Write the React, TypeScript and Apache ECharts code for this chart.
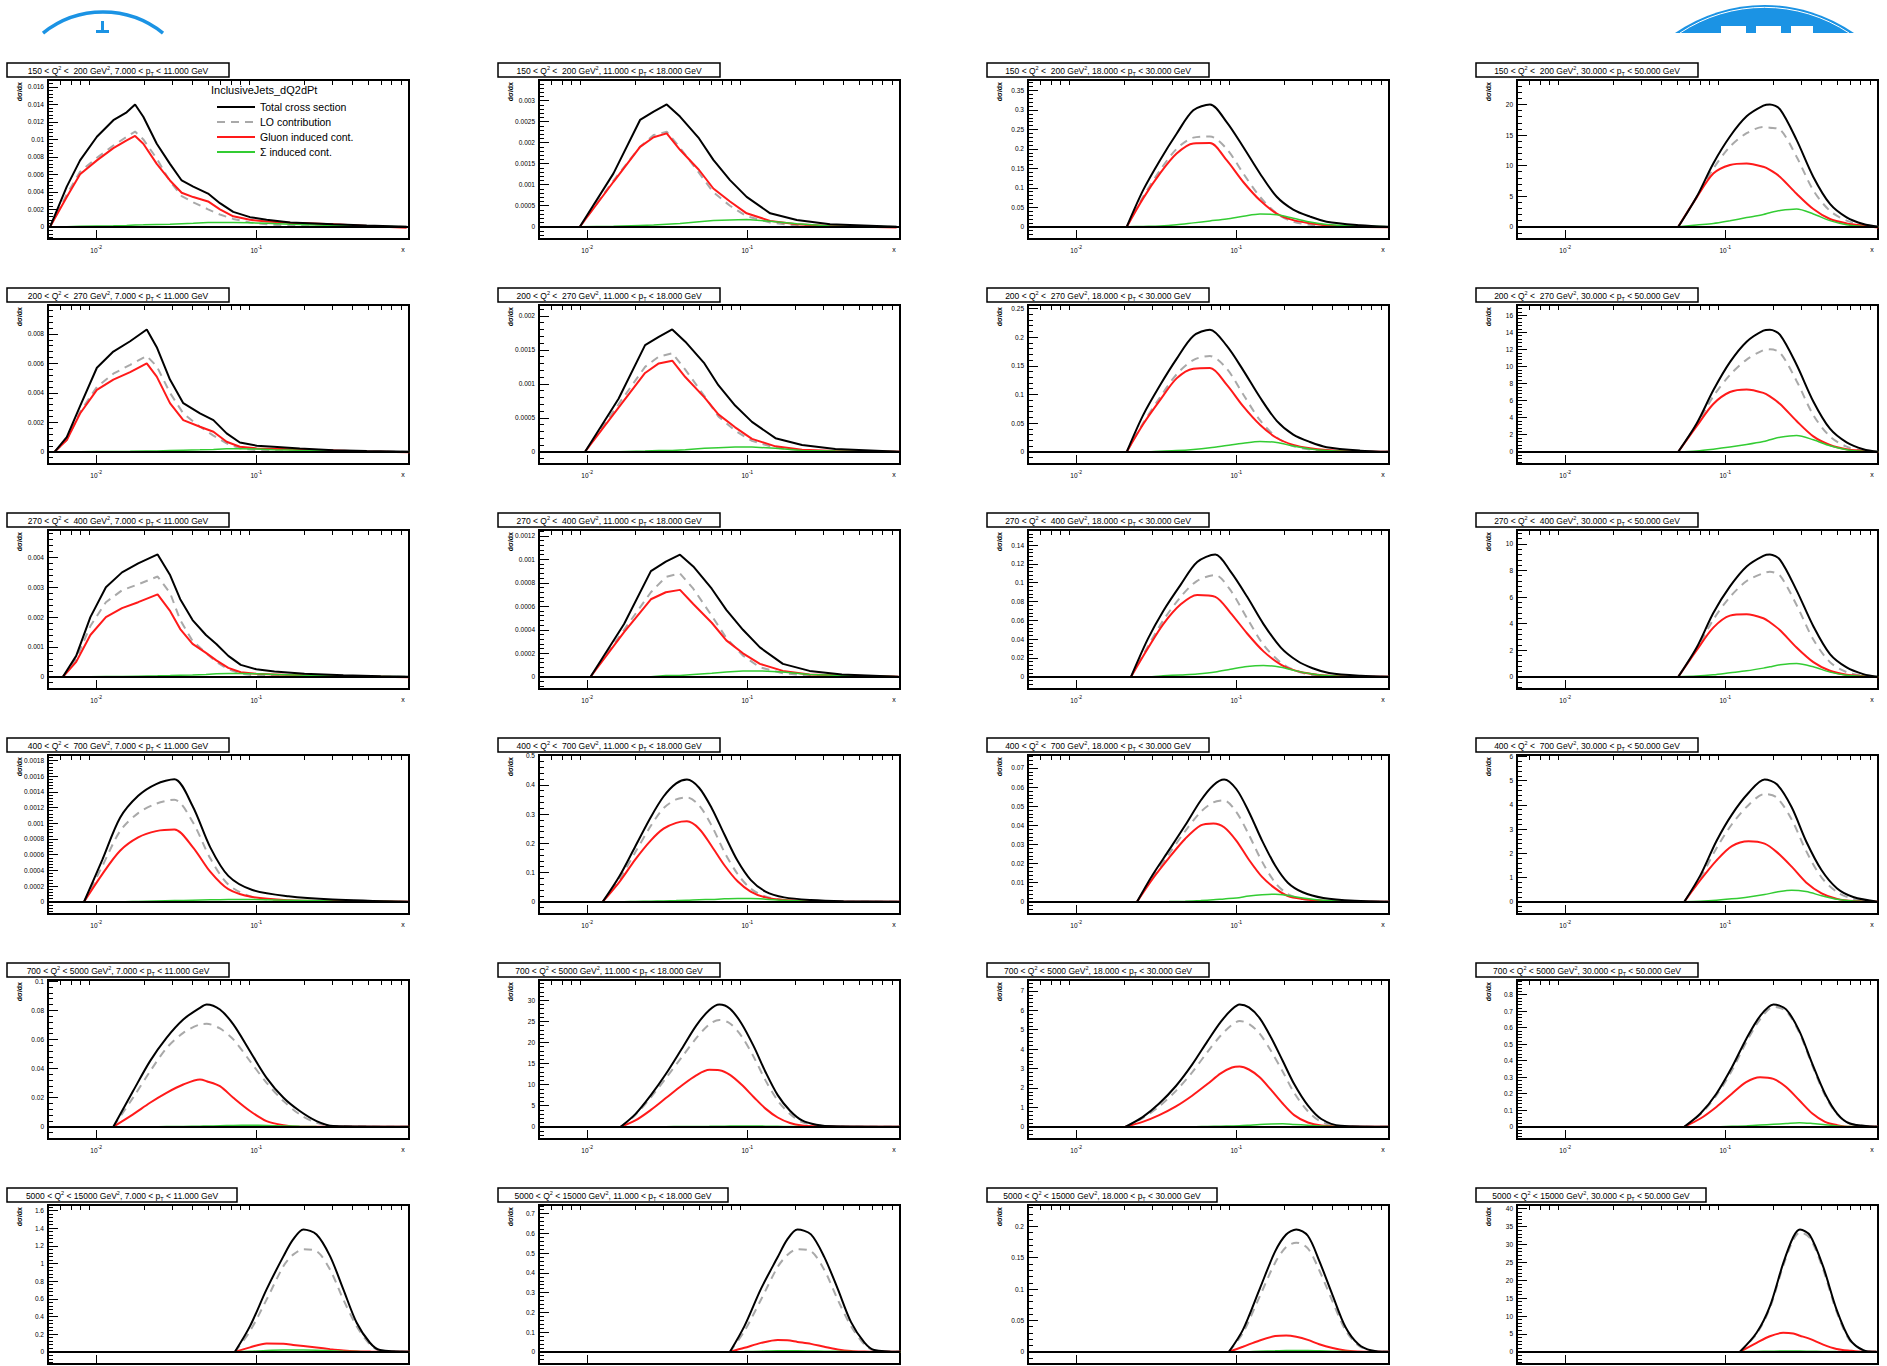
import React, { useEffect, useRef } from 'react';
import * as echarts from 'echarts';

// ---------------- data ----------------
const Q2_LO = ['150', '200', '270', '400', '700', '5000'];
const Q2_HI = ['200', '270', '400', '700', '5000', '15000'];
const PT_LO = ['7.000', '11.000', '18.000', '30.000'];
const PT_HI = ['11.000', '18.000', '30.000', '50.000'];

const SERIES_NAMES = ['Total cross section', 'LO contribution', 'Gluon induced cont.', 'Σ induced cont.'];
const LEGEND_HEADER = 'InclusiveJets_dQ2dPt';
const Y_TITLE = 'dσ/dx';
const X_TITLE = 'x';

const X_MIN = 0.005;
const X_MAX = 0.9;
const X_MINOR_TICKS = [0.006, 0.007, 0.008, 0.009, 0.02, 0.03, 0.04, 0.05, 0.06, 0.07, 0.08, 0.09, 0.2, 0.3, 0.4, 0.5, 0.6, 0.7, 0.8];

const Y_MAX = [0.0168, 0.00349, 0.377, 24, 0.00996, 0.00216, 0.256, 17.2, 0.00492, 0.00125, 0.156, 11.04, 0.00187, 0.502, 0.0768, 6.06, 0.1008, 34.8, 7.56, 0.888, 1.662, 0.744, 0.234, 41.04];
const Y_STEP = [0.002, 0.0005, 0.05, 5, 0.002, 0.0005, 0.05, 2, 0.001, 0.0002, 0.02, 2, 0.0002, 0.1, 0.01, 1, 0.02, 5, 1, 0.1, 0.2, 0.1, 0.05, 5];

const X_VALUES: number[][] = [
  [0.00515, 0.00655, 0.00793, 0.0101, 0.0128, 0.0155, 0.0175, 0.0197, 0.0239, 0.0289, 0.0342, 0.0404, 0.05, 0.0593, 0.0718, 0.0914, 0.116, 0.163, 0.303, 0.49, 0.87],
  [0.009, 0.0146, 0.0214, 0.026, 0.0314, 0.038, 0.05, 0.0614, 0.078, 0.0991, 0.139, 0.204, 0.329, 0.857],
  [0.0207, 0.0262, 0.0334, 0.0424, 0.0539, 0.0685, 0.0871, 0.1106, 0.1406, 0.179, 0.227, 0.289, 0.367, 0.593, 0.89],
  [0.0509, 0.0663, 0.0842, 0.107, 0.136, 0.173, 0.19, 0.22, 0.279, 0.355, 0.451, 0.573, 0.728, 0.904],
  [0.0055, 0.00655, 0.00793, 0.0101, 0.0128, 0.0163, 0.0207, 0.0239, 0.0289, 0.035, 0.0445, 0.054, 0.0653, 0.079, 0.1007, 0.128, 0.187, 0.303, 0.49, 0.91],
  [0.0097, 0.0157, 0.023, 0.028, 0.034, 0.041, 0.054, 0.066, 0.084, 0.107, 0.15, 0.22, 0.355, 0.9],
  [0.0207, 0.0262, 0.0334, 0.0424, 0.0539, 0.0685, 0.0871, 0.1106, 0.1406, 0.179, 0.227, 0.289, 0.367, 0.593, 0.89],
  [0.0509, 0.0663, 0.0842, 0.107, 0.136, 0.173, 0.19, 0.22, 0.279, 0.355, 0.451, 0.573, 0.728, 0.904],
  [0.0062, 0.0075, 0.0092, 0.0115, 0.0145, 0.0183, 0.0242, 0.029, 0.0335, 0.04, 0.0485, 0.0563, 0.0669, 0.08, 0.1, 0.13, 0.2, 0.35, 0.6, 0.9],
  [0.0105, 0.017, 0.025, 0.031, 0.038, 0.046, 0.06, 0.074, 0.094, 0.12, 0.167, 0.245, 0.39, 0.88],
  [0.022, 0.028, 0.035, 0.045, 0.057, 0.074, 0.092, 0.117, 0.148, 0.19, 0.24, 0.3, 0.38, 0.6, 0.9],
  [0.0509, 0.0663, 0.0842, 0.107, 0.136, 0.173, 0.19, 0.22, 0.279, 0.355, 0.451, 0.573, 0.728, 0.904],
  [0.0084, 0.0109, 0.0141, 0.0183, 0.0237, 0.0308, 0.04, 0.0517, 0.0669, 0.0946, 0.159, 0.3, 0.894],
  [0.0125, 0.016, 0.02, 0.025, 0.03, 0.036, 0.042, 0.05, 0.06, 0.072, 0.087, 0.105, 0.13, 0.17, 0.25, 0.4, 0.9],
  [0.024, 0.03, 0.038, 0.048, 0.06, 0.072, 0.084, 0.1, 0.12, 0.145, 0.175, 0.21, 0.26, 0.35, 0.55, 0.9],
  [0.0555, 0.07, 0.088, 0.11, 0.14, 0.176, 0.21, 0.26, 0.32, 0.4, 0.5, 0.63, 0.9],
  [0.0128, 0.017, 0.0217, 0.0275, 0.035, 0.0445, 0.049, 0.0593, 0.0719, 0.0914, 0.116, 0.148, 0.187, 0.238, 0.303, 0.91],
  [0.0162, 0.02, 0.025, 0.031, 0.039, 0.048, 0.058, 0.067, 0.078, 0.092, 0.11, 0.13, 0.155, 0.185, 0.22, 0.27, 0.35, 0.9],
  [0.0203, 0.026, 0.033, 0.042, 0.053, 0.066, 0.08, 0.094, 0.105, 0.12, 0.14, 0.165, 0.195, 0.23, 0.28, 0.34, 0.45, 0.9],
  [0.0555, 0.07, 0.088, 0.11, 0.135, 0.165, 0.2, 0.24, 0.29, 0.35, 0.42, 0.5, 0.6, 0.9],
  [0.0736, 0.0914, 0.116, 0.148, 0.17, 0.197, 0.238, 0.289, 0.35, 0.424, 0.513, 0.593, 0.91],
  [0.078, 0.096, 0.122, 0.155, 0.178, 0.206, 0.25, 0.303, 0.367, 0.445, 0.54, 0.62, 0.91],
  [0.09, 0.11, 0.14, 0.175, 0.205, 0.237, 0.28, 0.33, 0.4, 0.48, 0.58, 0.7, 0.9],
  [0.1236, 0.157, 0.19, 0.23, 0.266, 0.293, 0.338, 0.409, 0.496, 0.601, 0.728, 0.88],
];

const TOTAL: number[][] = [
  [0, 0.0046, 0.0076, 0.0103, 0.0122, 0.0131, 0.014, 0.0126, 0.0095, 0.0072, 0.0053, 0.0046, 0.0038, 0.0027, 0.0017, 0.0011, 0.0008, 0.0005, 0.0003, 0.00015, 0],
  [0, 0.00127, 0.00254, 0.00274, 0.00291, 0.00262, 0.0021, 0.00159, 0.00111, 0.00071, 0.00032, 0.00016, 0.00006, 0],
  [0, 0.094, 0.171, 0.239, 0.299, 0.314, 0.269, 0.205, 0.137, 0.077, 0.044, 0.026, 0.013, 0.004, 0],
  [0, 4.9, 10.35, 14.76, 18.06, 19.8, 20.0, 19.2, 14.2, 8.15, 3.74, 1.54, 0.44, 0],
  [0, 0.001, 0.0031, 0.0057, 0.0068, 0.0075, 0.0083, 0.0071, 0.0049, 0.0033, 0.0026, 0.00215, 0.00125, 0.00063, 0.00041, 0.00034, 0.00023, 0.00011, 0.00005, 0],
  [0, 0.00078, 0.00157, 0.00169, 0.0018, 0.00162, 0.0013, 0.00098, 0.00068, 0.00044, 0.0002, 0.0001, 0.00004, 0],
  [0, 0.064, 0.116, 0.162, 0.202, 0.213, 0.185, 0.142, 0.095, 0.054, 0.03, 0.017, 0.008, 0.002, 0],
  [0, 3.3, 7.2, 10.5, 12.9, 14.2, 14.3, 13.7, 10.2, 5.9, 2.7, 1.1, 0.3, 0],
  [0, 0.0007, 0.002, 0.003, 0.0035, 0.0038, 0.0041, 0.0034, 0.0026, 0.0019, 0.0014, 0.0011, 0.0007, 0.0004, 0.00025, 0.00018, 0.0001, 0.00005, 0.00002, 0],
  [0, 0.00045, 0.0009, 0.00098, 0.00104, 0.00094, 0.00075, 0.00057, 0.0004, 0.00025, 0.00011, 0.00005, 0.00002, 0],
  [0, 0.04, 0.07, 0.098, 0.122, 0.13, 0.112, 0.085, 0.056, 0.031, 0.017, 0.009, 0.004, 0.001, 0],
  [0, 2.2, 4.8, 6.8, 8.3, 9.1, 9.2, 8.8, 6.5, 3.8, 1.7, 0.7, 0.2, 0],
  [0, 0.00053, 0.00107, 0.00135, 0.0015, 0.00156, 0.00122, 0.00069, 0.00033, 0.00015, 0.00007, 0.00003, 0],
  [0, 0.09, 0.19, 0.29, 0.36, 0.405, 0.418, 0.39, 0.32, 0.23, 0.14, 0.075, 0.035, 0.015, 0.006, 0.002, 0],
  [0, 0.014, 0.027, 0.04, 0.053, 0.061, 0.064, 0.059, 0.047, 0.032, 0.019, 0.01, 0.005, 0.002, 0.0005, 0],
  [0, 1.1, 2.5, 3.6, 4.5, 5.05, 4.85, 3.9, 2.5, 1.3, 0.55, 0.2, 0],
  [0, 0.0245, 0.0451, 0.0611, 0.0737, 0.0817, 0.084, 0.0805, 0.0703, 0.0519, 0.0336, 0.0199, 0.0108, 0.0039, 0.0005, 0],
  [0, 3.0, 7.5, 12.5, 18.5, 24, 27.7, 29, 28, 24.5, 19, 13, 7.5, 3.8, 1.5, 0.5, 0.1, 0],
  [0, 0.5, 1.2, 2.1, 3.2, 4.4, 5.4, 6.05, 6.3, 6.15, 5.6, 4.6, 3.4, 2.2, 1.1, 0.4, 0.05, 0],
  [0, 0.08, 0.2, 0.36, 0.53, 0.67, 0.74, 0.71, 0.58, 0.38, 0.2, 0.08, 0.02, 0],
  [0, 0.29, 0.706, 1.083, 1.272, 1.385, 1.328, 1.083, 0.706, 0.328, 0.102, 0.019, 0],
  [0, 0.13, 0.32, 0.48, 0.57, 0.62, 0.595, 0.48, 0.32, 0.15, 0.046, 0.009, 0],
  [0, 0.035, 0.1, 0.16, 0.187, 0.195, 0.185, 0.145, 0.09, 0.04, 0.012, 0.002, 0],
  [0, 5.3, 12.7, 24.7, 32.1, 34.2, 32.6, 23.8, 11.8, 3.4, 0.46, 0],
];

const LO: number[][] = [
  [0, 0.0037, 0.0063, 0.0079, 0.0093, 0.0103, 0.0109, 0.01, 0.0078, 0.0052, 0.0035, 0.0028, 0.002, 0.0014, 0.0009, 0.0005, 0.0003, 0.0001, 0, 0, 0],
  [0, 0.0011, 0.0019, 0.00218, 0.00226, 0.00188, 0.00128, 0.00082, 0.0005, 0.00025, 0.0001, 0.00003, 0, 0],
  [0, 0.077, 0.145, 0.2, 0.229, 0.232, 0.2, 0.137, 0.077, 0.034, 0.013, 0.005, 0.001, 0, 0],
  [0, 4.85, 9.5, 13.1, 15.3, 16.3, 16.2, 15.9, 11.45, 5.95, 2.6, 1.0, 0.33, 0],
  [0, 0.0008, 0.0027, 0.0044, 0.0053, 0.0059, 0.0065, 0.0058, 0.004, 0.0026, 0.0017, 0.0011, 0.00057, 0.00023, 0.0001, 0.00005, 0.00001, 0, 0, 0],
  [0, 0.0007, 0.00125, 0.0014, 0.00145, 0.00121, 0.00082, 0.00052, 0.00031, 0.00016, 0.00006, 0.00002, 0, 0],
  [0, 0.05, 0.095, 0.135, 0.16, 0.167, 0.145, 0.1, 0.055, 0.025, 0.01, 0.004, 0.001, 0, 0],
  [0, 3.2, 6.5, 9.0, 10.8, 11.9, 12.0, 11.6, 8.3, 4.3, 1.8, 0.6, 0.15, 0],
  [0, 0.0006, 0.0017, 0.0025, 0.0029, 0.0031, 0.00336, 0.0028, 0.0019, 0.0012, 0.0008, 0.0005, 0.00025, 0.0001, 0.00004, 0.00002, 0, 0, 0, 0],
  [0, 0.0004, 0.00072, 0.00085, 0.00088, 0.00075, 0.00052, 0.00033, 0.00018, 0.00008, 0.00003, 0.00001, 0, 0],
  [0, 0.032, 0.06, 0.085, 0.102, 0.108, 0.092, 0.062, 0.034, 0.015, 0.006, 0.002, 0.001, 0, 0],
  [0, 2.1, 4.3, 6.0, 7.2, 7.8, 7.9, 7.6, 5.4, 2.8, 1.1, 0.35, 0.08, 0],
  [0, 0.00045, 0.0009, 0.00113, 0.00125, 0.0013, 0.00102, 0.00055, 0.00022, 0.00006, 0.00001, 0, 0],
  [0, 0.08, 0.17, 0.26, 0.32, 0.35, 0.357, 0.33, 0.26, 0.17, 0.095, 0.045, 0.018, 0.006, 0.001, 0, 0],
  [0, 0.013, 0.025, 0.037, 0.047, 0.052, 0.053, 0.047, 0.035, 0.021, 0.01, 0.004, 0.0015, 0.0004, 0, 0],
  [0, 1.0, 2.2, 3.2, 4.0, 4.45, 4.3, 3.4, 2.1, 1.0, 0.4, 0.12, 0],
  [0, 0.02, 0.038, 0.054, 0.0645, 0.0703, 0.0707, 0.0675, 0.06, 0.0451, 0.0302, 0.0176, 0.0085, 0.0027, 0.0005, 0],
  [0, 2.8, 7.0, 11.5, 16.5, 21, 24.3, 25.3, 24.5, 21.5, 16.5, 11, 6.2, 3.0, 1.1, 0.35, 0.05, 0],
  [0, 0.45, 1.05, 1.85, 2.8, 3.85, 4.7, 5.25, 5.45, 5.3, 4.8, 3.9, 2.85, 1.75, 0.8, 0.25, 0.02, 0],
  [0, 0.075, 0.19, 0.34, 0.51, 0.65, 0.725, 0.7, 0.57, 0.37, 0.19, 0.075, 0.02, 0],
  [0, 0.234, 0.59, 0.97, 1.1, 1.16, 1.14, 0.93, 0.59, 0.29, 0.083, 0.015, 0],
  [0, 0.105, 0.265, 0.43, 0.49, 0.52, 0.51, 0.415, 0.265, 0.13, 0.037, 0.007, 0],
  [0, 0.03, 0.088, 0.142, 0.167, 0.174, 0.165, 0.13, 0.08, 0.035, 0.01, 0.002, 0],
  [0, 5.0, 12.2, 24, 31.3, 33.4, 31.8, 23, 11.2, 3.1, 0.4, 0],
];

const GLUON: number[][] = [
  [0, 0.0034, 0.006, 0.0076, 0.009, 0.0099, 0.0104, 0.0095, 0.0072, 0.0053, 0.0039, 0.0034, 0.0029, 0.002, 0.0012, 0.0008, 0.0006, 0.00046, 0.0003, 0.0001, -0.0001],
  [0, 0.00107, 0.0019, 0.00213, 0.00222, 0.00183, 0.00135, 0.00091, 0.0006, 0.00032, 0.00014, 0.00006, 0.00002, -0.00002],
  [0, 0.073, 0.137, 0.188, 0.214, 0.215, 0.171, 0.115, 0.068, 0.034, 0.017, 0.009, 0.004, 0, -0.001],
  [0, 4.8, 8.7, 10.1, 10.35, 9.8, 9.3, 8.15, 5.4, 2.9, 1.27, 0.55, 0.17, -0.1],
  [0, 0.0008, 0.0026, 0.0042, 0.0049, 0.0054, 0.006, 0.0051, 0.0033, 0.00215, 0.0017, 0.00136, 0.00068, 0.00034, 0.00023, 0.0002, 0.00016, 0.00009, 0.00002, -0.00004],
  [0, 0.00065, 0.00116, 0.0013, 0.00134, 0.0011, 0.0008, 0.00055, 0.00036, 0.00019, 0.00008, 0.00003, 0.00001, 0],
  [0, 0.048, 0.09, 0.128, 0.145, 0.146, 0.117, 0.079, 0.047, 0.024, 0.012, 0.006, 0.003, 0, 0],
  [0, 3.0, 5.6, 7.0, 7.3, 6.9, 6.5, 5.6, 3.6, 1.8, 0.8, 0.3, 0.1, -0.05],
  [0, 0.0005, 0.0014, 0.002, 0.0023, 0.0025, 0.00276, 0.0022, 0.0016, 0.0011, 0.0008, 0.00055, 0.0003, 0.00015, 0.0001, 0.00008, 0.00005, 0.00002, 0, -0.00002],
  [0, 0.00038, 0.00066, 0.00072, 0.00074, 0.00062, 0.00046, 0.00031, 0.0002, 0.00011, 0.00005, 0.00002, 0.00001, 0],
  [0, 0.03, 0.056, 0.077, 0.087, 0.085, 0.068, 0.046, 0.027, 0.013, 0.006, 0.003, 0.001, 0, 0],
  [0, 2.0, 3.7, 4.6, 4.7, 4.4, 4.1, 3.5, 2.2, 1.1, 0.45, 0.15, 0.05, -0.03],
  [0, 0.00035, 0.00065, 0.00082, 0.0009, 0.00092, 0.0007, 0.00038, 0.00016, 0.00006, 0.00002, 0.00001, 0],
  [0, 0.07, 0.145, 0.21, 0.25, 0.27, 0.275, 0.25, 0.19, 0.125, 0.07, 0.035, 0.015, 0.006, 0.002, 0, 0],
  [0, 0.012, 0.023, 0.033, 0.04, 0.041, 0.039, 0.032, 0.022, 0.013, 0.007, 0.003, 0.0015, 0.0005, 0, 0],
  [0, 0.9, 1.7, 2.3, 2.5, 2.4, 2.05, 1.45, 0.8, 0.35, 0.12, 0.03, 0],
  [0, 0.0085, 0.0165, 0.0233, 0.029, 0.0325, 0.0313, 0.0279, 0.0199, 0.0108, 0.0039, 0.0011, 0, 0, 0, 0],
  [0, 1.5, 4.0, 6.8, 9.8, 12.2, 13.5, 13.4, 12.3, 10, 7, 4.3, 2.2, 0.9, 0.3, 0.1, 0, 0],
  [0, 0.25, 0.6, 1.05, 1.6, 2.2, 2.75, 3.05, 3.1, 2.95, 2.55, 1.9, 1.2, 0.6, 0.22, 0.06, 0, 0],
  [0, 0.05, 0.12, 0.2, 0.27, 0.3, 0.29, 0.24, 0.16, 0.08, 0.03, 0.01, 0, 0],
  [0, 0.05, 0.095, 0.09, 0.078, 0.065, 0.048, 0.03, 0.015, 0.006, 0.002, 0, 0],
  [0, 0.02, 0.045, 0.06, 0.058, 0.05, 0.04, 0.025, 0.012, 0.004, 0.001, 0, 0],
  [0, 0.008, 0.018, 0.025, 0.026, 0.024, 0.019, 0.012, 0.006, 0.002, 0.0005, 0, 0],
  [0, 2.5, 4.35, 5.3, 5.1, 4.5, 3.6, 2.0, 0.8, 0.3, 0, 0],
];

const SIGMA: number[][] = [
  [0, 0, 0.00005, 0.0001, 0.00012, 0.00015, 0.0002, 0.00022, 0.00026, 0.0003, 0.00035, 0.0004, 0.00048, 0.0005, 0.0005, 0.00045, 0.0004, 0.0003, 0.00015, 0.00005, 0],
  [0, 0.00001, 0.00003, 0.00004, 0.00006, 0.00008, 0.00012, 0.00015, 0.00016, 0.00017, 0.00013, 0.00007, 0.00002, 0],
  [0, 0.001, 0.002, 0.005, 0.01, 0.015, 0.02, 0.027, 0.033, 0.031, 0.022, 0.012, 0.006, 0.002, 0],
  [0, 0.3, 0.55, 1.0, 1.5, 2.0, 2.3, 2.65, 2.9, 2.1, 1.0, 0.33, 0.05, 0],
  [0, 0, 0, 0.00001, 0.00002, 0.00003, 0.00005, 0.00006, 0.00008, 0.0001, 0.00013, 0.00016, 0.0002, 0.0002, 0.00018, 0.00014, 0.0001, 0.00005, 0.00002, 0],
  [0, 0, 0.00001, 0.00002, 0.00002, 0.00003, 0.00005, 0.00006, 0.00007, 0.00007, 0.00005, 0.00002, 0.00001, 0],
  [0, 0, 0.001, 0.002, 0.004, 0.007, 0.011, 0.015, 0.018, 0.016, 0.01, 0.005, 0.002, 0, 0],
  [0, 0.1, 0.3, 0.55, 0.85, 1.2, 1.4, 1.7, 1.9, 1.4, 0.7, 0.25, 0.05, 0],
  [0, 0, 0, 0.00001, 0.00001, 0.00002, 0.00003, 0.00004, 0.00005, 0.00006, 0.00008, 0.0001, 0.00011, 0.00011, 0.0001, 0.00008, 0.00005, 0.00002, 0.00001, 0],
  [0, 0, 0, 0.00001, 0.00001, 0.00002, 0.00003, 0.00004, 0.00005, 0.00005, 0.00004, 0.00002, 0.00001, 0],
  [0, 0, 0.001, 0.002, 0.003, 0.005, 0.008, 0.011, 0.012, 0.01, 0.006, 0.003, 0.001, 0, 0],
  [0, 0.05, 0.15, 0.3, 0.45, 0.65, 0.75, 0.9, 1.0, 0.75, 0.35, 0.12, 0.03, 0],
  [0, 0, 0, 0.000005, 0.00001, 0.000015, 0.00002, 0.000025, 0.00003, 0.00003, 0.00002, 0.00001, 0],
  [0, 0, 0.001, 0.002, 0.003, 0.004, 0.005, 0.007, 0.008, 0.01, 0.011, 0.011, 0.009, 0.005, 0.002, 0, 0],
  [0, 0, 0.0001, 0.0003, 0.0006, 0.001, 0.0015, 0.002, 0.003, 0.0037, 0.004, 0.0033, 0.002, 0.0008, 0.0001, 0],
  [0, 0.02, 0.06, 0.12, 0.2, 0.3, 0.4, 0.48, 0.42, 0.25, 0.1, 0.03, 0],
  [0, 0, 0, 0.0001, 0.0002, 0.0004, 0.0005, 0.0007, 0.0009, 0.001, 0.0009, 0.0006, 0.0003, 0.0001, 0, 0],
  [0, 0, 0, 0.02, 0.05, 0.08, 0.1, 0.13, 0.16, 0.2, 0.2, 0.15, 0.1, 0.06, 0.03, 0.01, 0, 0],
  [0, 0, 0, 0, 0, 0.02, 0.03, 0.04, 0.05, 0.08, 0.12, 0.14, 0.15, 0.12, 0.08, 0.04, 0.01, 0],
  [0, 0, 0, 0.003, 0.005, 0.01, 0.015, 0.02, 0.025, 0.02, 0.012, 0.005, 0.001, 0],
  [0, 0.005, 0.015, 0.02, 0.02, 0.02, 0.018, 0.012, 0.006, 0.002, 0, 0, 0],
  [0, 0.001, 0.003, 0.005, 0.005, 0.005, 0.004, 0.003, 0.002, 0.001, 0, 0, 0],
  [0, 0, 0.001, 0.0015, 0.002, 0.002, 0.002, 0.0015, 0.001, 0.0005, 0, 0, 0],
  [0, 0.1, 0.15, 0.2, 0.2, 0.2, 0.15, 0.1, 0.05, 0.02, 0, 0],
];

// ---------------- layout / style ----------------
const W = 1887;
const H = 1366;
const COL_LEFT = [48, 539, 1028, 1517];
const PLOT_W = 361;
const ROW_TOP = 80;
const ROW_PITCH = 225;
const PLOT_H = 159;
const FONT = 'Liberation Sans';

const C_TOTAL = '#000000';
const C_LO = '#a9a9a9';
const C_GLUON = '#ff1a1a';
const C_SIGMA = '#33cc33';
const C_LOGO = '#1b93e4';

function clean(v: number) {
  return Number(v.toPrecision(8));
}

function buildOption() {
  const grids: any[] = [];
  const xAxes: any[] = [];
  const yAxes: any[] = [];
  const series: any[] = [];
  const graphics: any[] = [];

  for (let p = 0; p < 24; p++) {
    const r = Math.floor(p / 4);
    const c = p % 4;
    const left = COL_LEFT[c];
    const top = ROW_TOP + r * ROW_PITCH;
    const ymax = Y_MAX[p];
    const ymin = -ymax / 12;
    const step = Y_STEP[p];
    const lastRow = r === 5; // its x labels fall below the page edge, as in the original

    const majors: number[] = [];
    for (let k = 0; k * step <= ymax * 1.0001; k++) majors.push(clean(k * step));
    const minorStep = step / 5;
    const minors: number[] = [];
    for (let k = Math.ceil(ymin / minorStep); k * minorStep <= ymax; k++) {
      if (k % 5 !== 0) minors.push(clean(k * minorStep));
    }

    grids.push({
      left, top, width: PLOT_W, height: PLOT_H,
      show: true, borderColor: '#000', borderWidth: 2, backgroundColor: '#fff',
      containLabel: false,
    });

    xAxes.push({
      gridIndex: p, type: 'log', logBase: 10, min: X_MIN, max: X_MAX,
      axisLine: { show: false, onZero: false },
      splitLine: { show: false },
      axisTick: { show: true, inside: true, length: 9, lineStyle: { color: '#000', width: 1 } },
      axisLabel: {
        show: !lastRow, margin: 5, color: '#000', fontFamily: FONT, fontSize: 6.5,
        showMinLabel: false, showMaxLabel: false,
        formatter: (v: number) => {
          const e = Math.log10(v);
          const re = Math.round(e);
          if (Math.abs(e - re) > 1e-6) return '';
          return `{b|10}{s|${re}}`;
        },
        rich: {
          b: { fontSize: 6.5, fontFamily: FONT, color: '#000', lineHeight: 10, verticalAlign: 'bottom' },
          s: { fontSize: 5, fontFamily: FONT, color: '#000', lineHeight: 10, verticalAlign: 'top' },
        },
      },
    });
    xAxes.push({
      gridIndex: p, type: 'log', logBase: 10, min: X_MIN, max: X_MAX,
      axisLine: { show: false, onZero: false },
      splitLine: { show: false },
      axisLabel: { show: false },
      axisTick: { show: true, inside: true, length: 5, customValues: X_MINOR_TICKS, lineStyle: { color: '#000', width: 1 } },
    });

    yAxes.push({
      gridIndex: p, type: 'value', min: ymin, max: ymax, position: 'left',
      axisLine: { show: false, onZero: false },
      splitLine: { show: false },
      axisTick: { show: true, inside: true, length: 10, customValues: majors, lineStyle: { color: '#000', width: 1 } },
      axisLabel: {
        show: true, customValues: majors, margin: 4, color: '#000', fontFamily: FONT, fontSize: 6.5,
        formatter: (v: number) => String(clean(v)),
      },
    });
    yAxes.push({
      gridIndex: p, type: 'value', min: ymin, max: ymax, position: 'left', offset: 0,
      axisLine: { show: false, onZero: false },
      splitLine: { show: false },
      axisLabel: { show: false },
      axisTick: { show: true, inside: true, length: 5, customValues: minors, lineStyle: { color: '#000', width: 1 } },
    });

    const xs = X_VALUES[p];
    const smooth = c >= 2 || r >= 3 ? 0.3 : false;
    const mk = (arr: number[]) => xs.map((x, i) => [x, arr[i] ?? 0]);
    const base = {
      type: 'line', xAxisIndex: 2 * p, yAxisIndex: 2 * p, symbol: 'none', showSymbol: false,
      smooth, animation: false, clip: true,
    };
    series.push({
      ...base, name: SERIES_NAMES[1], data: mk(LO[p]),
      lineStyle: { color: C_LO, width: 2, type: [8, 6] }, itemStyle: { color: C_LO }, z: 2,
    });
    series.push({
      ...base, name: SERIES_NAMES[2], data: mk(GLUON[p]),
      lineStyle: { color: C_GLUON, width: 2 }, itemStyle: { color: C_GLUON }, z: 3,
    });
    series.push({
      ...base, name: SERIES_NAMES[3], data: mk(SIGMA[p]),
      lineStyle: { color: C_SIGMA, width: 1.5 }, itemStyle: { color: C_SIGMA }, z: 3,
    });
    series.push({
      ...base, name: SERIES_NAMES[0], data: mk(TOTAL[p]),
      lineStyle: { color: C_TOTAL, width: 2 }, itemStyle: { color: C_TOTAL }, z: 4,
      markLine: {
        silent: true, symbol: ['none', 'none'], label: { show: false }, animation: false,
        lineStyle: { color: '#000', width: 2, type: 'solid' },
        data: [{ yAxis: 0 }],
      },
    });

    // title pave
    const boxW = r === 5 ? 230 : 222;
    const boxL = left - 41;
    const boxT = top - 17;
    const hi = Q2_HI[r];
    const hiTxt = hi.length === 3 ? ' ' + hi : hi;
    const txt = `{n|${Q2_LO[r]} < Q}{sp|2}{n| < ${hiTxt} GeV}{sp|2}{n|, ${PT_LO[c]} < p}{sb|T}{n| < ${PT_HI[c]} GeV}`;
    graphics.push({
      type: 'rect', z: 100,
      shape: { x: boxL, y: boxT, width: boxW, height: 14 },
      style: { fill: '#fff', stroke: '#000', lineWidth: 1.5 },
    });
    graphics.push({
      type: 'text', z: 101, x: boxL + boxW / 2, y: boxT + 7.5,
      style: {
        text: txt, align: 'center', verticalAlign: 'middle', fill: '#000',
        fontFamily: FONT, fontSize: 8.5,
        rich: {
          n: { fontSize: 8.5, fontFamily: FONT, fill: '#000', lineHeight: 12, verticalAlign: 'middle' },
          sp: { fontSize: 5.5, fontFamily: FONT, fill: '#000', lineHeight: 12, verticalAlign: 'top' },
          sb: { fontSize: 5.5, fontFamily: FONT, fill: '#000', lineHeight: 12, verticalAlign: 'bottom' },
        },
      },
    });
    // y title
    graphics.push({
      type: 'text', z: 101, x: left - 29, y: top + 2, rotation: Math.PI / 2,
      style: { text: Y_TITLE, align: 'right', verticalAlign: 'middle', fill: '#000', fontFamily: FONT, fontSize: 7, fontWeight: 'bold' },
    });
    // x title (the last row's lies below the page edge)
    if (!lastRow) {
      graphics.push({
        type: 'text', z: 101, x: left + PLOT_W - 6, y: top + PLOT_H + 10,
        style: { text: X_TITLE, align: 'center', verticalAlign: 'middle', fill: '#000', fontFamily: FONT, fontSize: 7 },
      });
    }
  }

  // legend header
  graphics.push({
    type: 'text', z: 101, x: 211, y: 90,
    style: { text: LEGEND_HEADER, align: 'left', verticalAlign: 'middle', fill: '#000', fontFamily: FONT, fontSize: 11 },
  });

  // logos (partially cut at top of the page)
  graphics.push({
    type: 'arc', z: 101,
    shape: { cx: 103, cy: 108, r: 96, startAngle: -Math.PI / 2 - 0.675, endAngle: -Math.PI / 2 + 0.675, clockwise: true },
    style: { stroke: C_LOGO, lineWidth: 3.5, fill: 'none' },
  });
  graphics.push({ type: 'rect', z: 101, shape: { x: 101, y: 21, width: 3, height: 12 }, style: { fill: C_LOGO } });
  graphics.push({ type: 'rect', z: 101, shape: { x: 96, y: 30, width: 13, height: 3 }, style: { fill: C_LOGO } });
  graphics.push({ type: 'hdome', z: 101, x: 1675, y: 5, style: { fill: C_LOGO } });
  graphics.push({ type: 'hdomeline', z: 102, x: 1675, y: 5, style: { fill: 'none', stroke: '#ffffff', lineWidth: 1 } });
  graphics.push({ type: 'rect', z: 102, shape: { x: 1721, y: 26, width: 25, height: 7 }, style: { fill: '#fff' } });
  graphics.push({ type: 'rect', z: 102, shape: { x: 1756, y: 26, width: 25, height: 7 }, style: { fill: '#fff' } });
  graphics.push({ type: 'rect', z: 102, shape: { x: 1791, y: 26, width: 22, height: 7 }, style: { fill: '#fff' } });

  return {
    animation: false,
    backgroundColor: '#ffffff',
    grid: grids,
    xAxis: xAxes,
    yAxis: yAxes,
    series,
    legend: {
      left: 211, top: 96, orient: 'vertical',
      itemWidth: 38, itemHeight: 12, itemGap: 3,
      data: SERIES_NAMES,
      itemStyle: { opacity: 0, borderWidth: 0 },
      textStyle: { fontFamily: FONT, fontSize: 10.5, color: '#000', lineHeight: 12 },
      selectedMode: false,
    },
    graphic: graphics,
  };
}

let shapesRegistered = false;
function registerShapes() {
  if (shapesRegistered) return;
  shapesRegistered = true;
  echarts.graphic.registerShape('hdome', echarts.graphic.extendPath('M0 28 A157 157 0 0 1 179 28 Z', {}) as any);
  echarts.graphic.registerShape('hdomeline', echarts.graphic.extendPath('M5 28 A152 152 0 0 1 174 28', {}) as any);
}

export default function App() {
  const ref = useRef<HTMLDivElement | null>(null);
  useEffect(() => {
    document.body.style.margin = '0';
    registerShapes();
    if (!ref.current) return;
    const chart = echarts.init(ref.current, undefined, { renderer: 'svg', width: W, height: H });
    chart.setOption(buildOption() as any);
    return () => {
      chart.dispose();
    };
  }, []);
  return <div ref={ref} style={{ width: W, height: H, background: '#fff' }} />;
}
